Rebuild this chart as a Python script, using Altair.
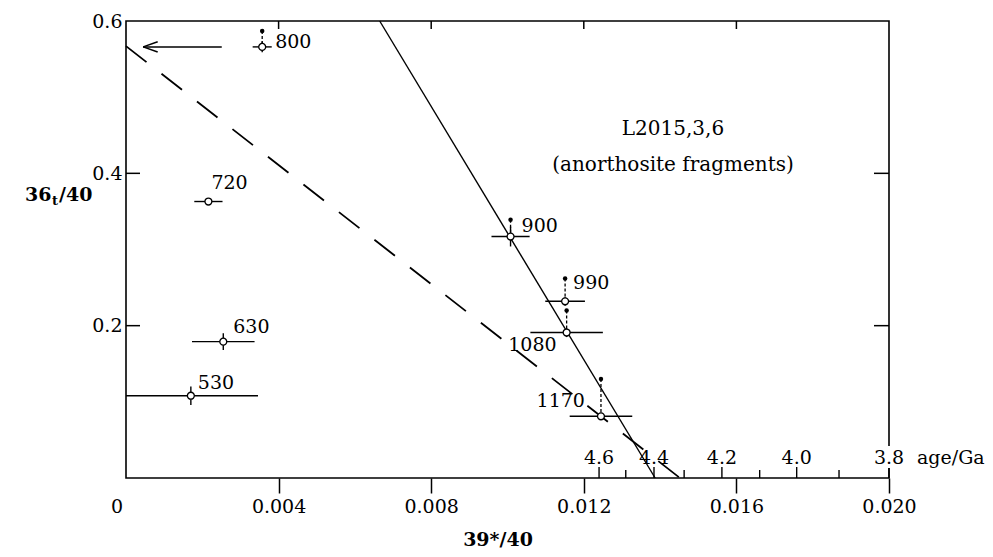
import altair as alt
import pandas as pd

# ---------------- data ----------------
temps = ["530", "630", "720", "800", "900", "990", "1080", "1170"]
x39 = [0.00170, 0.00255, 0.00216, 0.00357, 0.01008, 0.01151, 0.01155, 0.01245]
x_err = [0.00176, 0.00082, 0.00037, 0.00025, 0.00050, 0.00052, 0.00095, 0.00082]
y36 = [0.108, 0.179, 0.363, 0.566, 0.317, 0.232, 0.191, 0.081]
y_err = [0.012, 0.011, 0.004, 0.007, 0.013, 0.006, 0.006, 0.005]
# uncorrected (total) 36/40 values shown as small filled dots
y36_total = [None, None, None, 0.587, 0.339, 0.262, 0.220, 0.130]

# isochron lines (x, y end points)
solid_x = [0.00665, 0.01387]
solid_y = [0.6, 0.0]
dashed_x = [0.0, 0.01452]
dashed_y = [0.567, 0.0]

# arrow pointing to the dashed-line intercept
arrow_tail_x = 0.00251
arrow_tip_x = 0.00045
arrow_y = 0.566

x_ticks = [0.004, 0.008, 0.012, 0.016, 0.020]
y_ticks = [0.2, 0.4, 0.6]

age_labels = ["4.6", "4.4", "4.2", "4.0", "3.8"]
age_major_x = [0.01240, 0.01384, 0.01562, 0.01758, 0.02000]
age_minor_x = [0.01310, 0.01463, 0.01661, 0.01869]

sample_text = "L2015,3,6"
sample_note = "(anorthosite fragments)"

# ---------------- frames ----------------
W, H = 763, 457
FONT = "DejaVu Serif"
FS = 19

pts = pd.DataFrame({"temp": temps, "x": x39, "xe": x_err, "y": y36, "ye": y_err,
                    "yt": y36_total})
pts["xlo"] = pts["x"] - pts["xe"]
pts["xhi"] = pts["x"] + pts["xe"]
pts["ylo"] = pts["y"] - pts["ye"]
pts["yhi"] = pts["y"] + pts["ye"]
tot = pts.dropna(subset=["yt"])

xs = alt.Scale(domain=[0, 0.020], nice=False, zero=False)
ys = alt.Scale(domain=[0, 0.6], nice=False, zero=False)

base = alt.Chart(pts)

X = lambda f: alt.X(f, type="quantitative", scale=xs,
                    axis=alt.Axis(values=x_ticks, format=".3f", title=None, grid=False,
                                  domain=False, tickSize=15, tickWidth=1.5, tickColor="black",
                                  labelFont=FONT, labelFontSize=FS, labelColor="black",
                                  labelPadding=4, labelFlush=False))
Y = lambda f: alt.Y(f, type="quantitative", scale=ys,
                    axis=alt.Axis(values=y_ticks, format=".1f", title=None, grid=False,
                                  domain=False, ticks=False,
                                  labelFont=FONT, labelFontSize=FS, labelColor="black",
                                  labelPadding=4, labelFlush=False))

solid = alt.Chart(pd.DataFrame({"x": solid_x, "y": solid_y})).mark_line(
    color="black", strokeWidth=1.4).encode(x=X("x:Q"), y=Y("y:Q"))
dashed = alt.Chart(pd.DataFrame({"x": dashed_x, "y": dashed_y})).mark_line(
    color="black", strokeWidth=1.8, strokeDash=[26, 19]).encode(
    x=alt.X("x:Q", scale=xs), y=alt.Y("y:Q", scale=ys))

xbar = base.mark_rule(color="black", strokeWidth=1.4, clip=True).encode(
    x=alt.X("xlo:Q", scale=xs), x2="xhi:Q", y=alt.Y("y:Q", scale=ys))
ybar = base.mark_rule(color="black", strokeWidth=1.4).encode(
    x=alt.X("x:Q", scale=xs), y=alt.Y("ylo:Q", scale=ys), y2="yhi:Q")

conn = alt.Chart(tot).mark_rule(color="black", strokeWidth=1.3, strokeDash=[3, 2]).encode(
    x=alt.X("x:Q", scale=xs), y=alt.Y("yt:Q", scale=ys), y2="y:Q")
totdots = alt.Chart(tot).mark_circle(color="black", size=20, opacity=1).encode(
    x=alt.X("x:Q", scale=xs), y=alt.Y("yt:Q", scale=ys))
opendots = base.mark_point(shape="circle", filled=True, fill="white", stroke="black",
                           strokeWidth=1.3, size=48, opacity=1).encode(
    x=alt.X("x:Q", scale=xs), y=alt.Y("y:Q", scale=ys))

# temperature labels, each with its own offset from its point
label_style = {
    "530": ("left", 7, -13), "630": ("left", 10, -15), "720": ("left", 3, -19),
    "800": ("left", 13, -5), "900": ("left", 11, -11), "990": ("left", 8, -18),
    "1080": ("right", -10, 12), "1170": ("right", -16, -15),
}
labels = []
for t in temps:
    al, dx, dy = label_style[t]
    labels.append(alt.Chart(pts[pts["temp"] == t]).mark_text(
        align=al, baseline="middle", dx=dx, dy=dy, font=FONT, fontSize=FS, color="black"
    ).encode(x=alt.X("x:Q", scale=xs), y=alt.Y("y:Q", scale=ys), text="temp:N"))

# arrow
arrow_df = pd.DataFrame({
    "x": [arrow_tail_x, arrow_tip_x, arrow_tip_x],
    "y": [arrow_y, arrow_y, arrow_y],
    "x2": [arrow_tip_x, arrow_tip_x + 0.00038, arrow_tip_x + 0.00038],
    "y2": [arrow_y, arrow_y + 0.0068, arrow_y - 0.0068],
})
arrow = alt.Chart(arrow_df).mark_rule(color="black", strokeWidth=1.5).encode(
    x=alt.X("x:Q", scale=xs), y=alt.Y("y:Q", scale=ys), x2="x2:Q", y2="y2:Q")

# inward ticks on the frame
top_ticks = alt.Chart(pd.DataFrame({"x": x_ticks[:-1]})).mark_rule(
    color="black", strokeWidth=1.5).encode(
    x=alt.X("x:Q", scale=xs), y=alt.value(0), y2=alt.value(8))
left_ticks = alt.Chart(pd.DataFrame({"y": y_ticks[:-1]})).mark_rule(
    color="black", strokeWidth=1.5).encode(
    y=alt.Y("y:Q", scale=ys), x=alt.value(0), x2=alt.value(14))
right_ticks = alt.Chart(pd.DataFrame({"y": y_ticks[:-1]})).mark_rule(
    color="black", strokeWidth=1.5).encode(
    y=alt.Y("y:Q", scale=ys), x=alt.value(W - 15), x2=alt.value(W))

# age scale along the bottom edge
age_major = alt.Chart(pd.DataFrame({"x": age_major_x, "lab": age_labels})).mark_rule(
    color="black", strokeWidth=1.4).encode(
    x=alt.X("x:Q", scale=xs), y=alt.value(H), y2=alt.value(H - 11))
age_minor = alt.Chart(pd.DataFrame({"x": age_minor_x})).mark_rule(
    color="black", strokeWidth=1.4).encode(
    x=alt.X("x:Q", scale=xs), y=alt.value(H), y2=alt.value(H - 8))
# white gap in the frame behind the "3.8" label
frame_gap = alt.Chart(pd.DataFrame({"x": [0.020]})).mark_rule(
    color="white", strokeWidth=4).encode(
    x=alt.X("x:Q", scale=xs), y=alt.value(H - 32), y2=alt.value(H - 10))
age_text = alt.Chart(pd.DataFrame({"x": age_major_x, "lab": age_labels})).mark_text(
    align="center", baseline="middle", font=FONT, fontSize=FS, color="black").encode(
    x=alt.X("x:Q", scale=xs), y=alt.value(H - 20), text="lab:N")
age_title = alt.Chart(pd.DataFrame({"t": ["age/Ga"]})).mark_text(
    align="left", baseline="middle", font=FONT, fontSize=FS, color="black").encode(
    x=alt.value(W + 28), y=alt.value(H - 20), text="t:N")

zero_lab = alt.Chart(pd.DataFrame({"t": ["0"]})).mark_text(
    align="center", baseline="middle", font=FONT, fontSize=FS, color="black").encode(
    x=alt.value(-9), y=alt.value(H + 29), text="t:N")

xtitle = alt.Chart(pd.DataFrame({"t": ["39*/40"]})).mark_text(
    align="center", baseline="middle", font=FONT, fontSize=FS, fontWeight="bold",
    color="black").encode(x=alt.value(372), y=alt.value(H + 62), text="t:N")

YT = 174  # vertical position of the y-axis title (plot pixels)
ytitle_a = alt.Chart(pd.DataFrame({"t": ["36"]})).mark_text(
    align="left", baseline="middle", font=FONT, fontSize=FS, fontWeight="bold",
    color="black").encode(x=alt.value(-101), y=alt.value(YT), text="t:N")
ytitle_b = alt.Chart(pd.DataFrame({"t": ["t"]})).mark_text(
    align="left", baseline="middle", font=FONT, fontSize=13, fontWeight="bold",
    color="black").encode(x=alt.value(-74), y=alt.value(YT + 6), text="t:N")
ytitle_c = alt.Chart(pd.DataFrame({"t": ["/40"]})).mark_text(
    align="left", baseline="middle", font=FONT, fontSize=FS, fontWeight="bold",
    color="black").encode(x=alt.value(-67), y=alt.value(YT), text="t:N")

note1 = alt.Chart(pd.DataFrame({"t": [sample_text]})).mark_text(
    align="center", baseline="middle", font=FONT, fontSize=20, color="black").encode(
    x=alt.value(547), y=alt.value(108), text="t:N")
note2 = alt.Chart(pd.DataFrame({"t": [sample_note]})).mark_text(
    align="center", baseline="middle", font=FONT, fontSize=20, color="black").encode(
    x=alt.value(547), y=alt.value(144), text="t:N")

chart = alt.layer(
    solid, dashed, xbar, ybar, conn, totdots, opendots, arrow,
    top_ticks, left_ticks, right_ticks, age_major, age_minor, frame_gap, age_text,
    age_title, zero_lab, xtitle, ytitle_a, ytitle_b, ytitle_c, note1, note2, *labels
).properties(
    width=W, height=H,
    autosize=alt.AutoSizeParams(type="none"),
    padding={"left": 118, "top": 13, "right": 96, "bottom": 71},
    background="white",
).configure_view(stroke="black", strokeWidth=1.6)

chart.save("out.html", embed_options={"renderer": "svg", "actions": False})
